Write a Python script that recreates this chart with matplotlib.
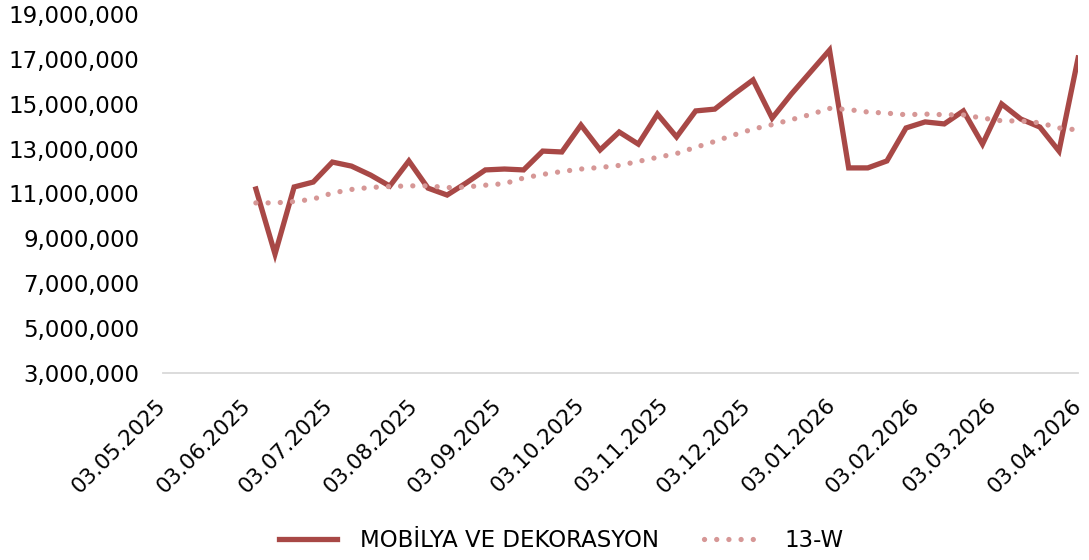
import numpy as np
import pandas as pd
import matplotlib
matplotlib.use("Agg")
import matplotlib.pyplot as plt
import matplotlib.dates as mdates
from matplotlib.ticker import FuncFormatter

# weekly observations (Fridays)
weeks = pd.date_range("2025-06-06", periods=44, freq="7D")

sales = [11.20, 8.30, 11.29, 11.51, 12.40, 12.22, 11.82, 11.33, 12.45, 11.24,
         10.93, 11.47, 12.05, 12.09, 12.05, 12.89, 12.85, 14.05, 12.94, 13.74,
         13.20, 14.54, 13.52, 14.68, 14.76, 15.43, 16.06, 14.36, 15.43, 16.41,
         17.39, 12.14, 12.14, 12.45, 13.92, 14.19, 14.10, 14.68, 13.20, 14.99,
         14.32, 13.96, 12.89, 17.04]

ma13 = [10.58, 10.58, 10.64, 10.75, 11.02, 11.18, 11.27, 11.31, 11.34, 11.34,
        11.26, 11.29, 11.37, 11.44, 11.69, 11.85, 11.98, 12.09, 12.16, 12.25,
        12.43, 12.61, 12.78, 13.06, 13.32, 13.61, 13.87, 14.07, 14.29, 14.52,
        14.79, 14.74, 14.63, 14.58, 14.51, 14.54, 14.51, 14.50, 14.36, 14.24,
        14.23, 14.15, 13.92, 13.83]

sales = np.array(sales) * 1e6
ma13 = np.array(ma13) * 1e6

tick_dates = pd.date_range("2025-05-01", "2026-04-01", freq="MS") + pd.Timedelta(days=2)
y_ticks = np.arange(3e6, 19e6 + 1, 2e6)

main_color = "#A84846"
ma_color = "#D69796"

plt.rcParams["font.family"] = ["DejaVu Sans"]

fig = plt.figure(figsize=(10.89, 5.6), dpi=100)
ax = fig.add_axes([0.1497, 0.334, 0.8403, 0.641])

ax.plot(weeks, sales, color=main_color, linewidth=3.8,
        solid_joinstyle="miter", label="MOBİLYA VE DEKORASYON")
ax.plot(weeks, ma13, color=ma_color, linewidth=3.8,
        linestyle=(0, (0.01, 2.3)), dash_capstyle="round", label="13-W")

ax.set_ylim(3e6, 19e6)
ax.set_yticks(y_ticks)
ax.yaxis.set_major_formatter(FuncFormatter(lambda v, p: f"{v:,.0f}"))
ax.set_xlim(tick_dates[0], tick_dates[-1])
ax.set_xticks(tick_dates)
ax.xaxis.set_major_formatter(mdates.DateFormatter("%d.%m.%Y"))

for s in ["top", "right", "left"]:
    ax.spines[s].set_visible(False)
ax.spines["bottom"].set_color("#D9D9D9")
ax.spines["bottom"].set_linewidth(1.3)

ax.tick_params(axis="both", length=0, colors="black")
ax.tick_params(axis="y", pad=17, labelsize=16.5)
ax.tick_params(axis="x", pad=21, labelsize=15.5)
for lbl in ax.get_xticklabels():
    lbl.set_rotation(45)
    lbl.set_ha("right")
    lbl.set_va("center")
    lbl.set_rotation_mode("anchor")

fig.legend(loc="center", bbox_to_anchor=(0.5156, 0.034), ncol=2, frameon=False,
           fontsize=16.5, handlelength=2.5, columnspacing=2.0, handletextpad=1.0)

fig.savefig("out.png", dpi=100)
